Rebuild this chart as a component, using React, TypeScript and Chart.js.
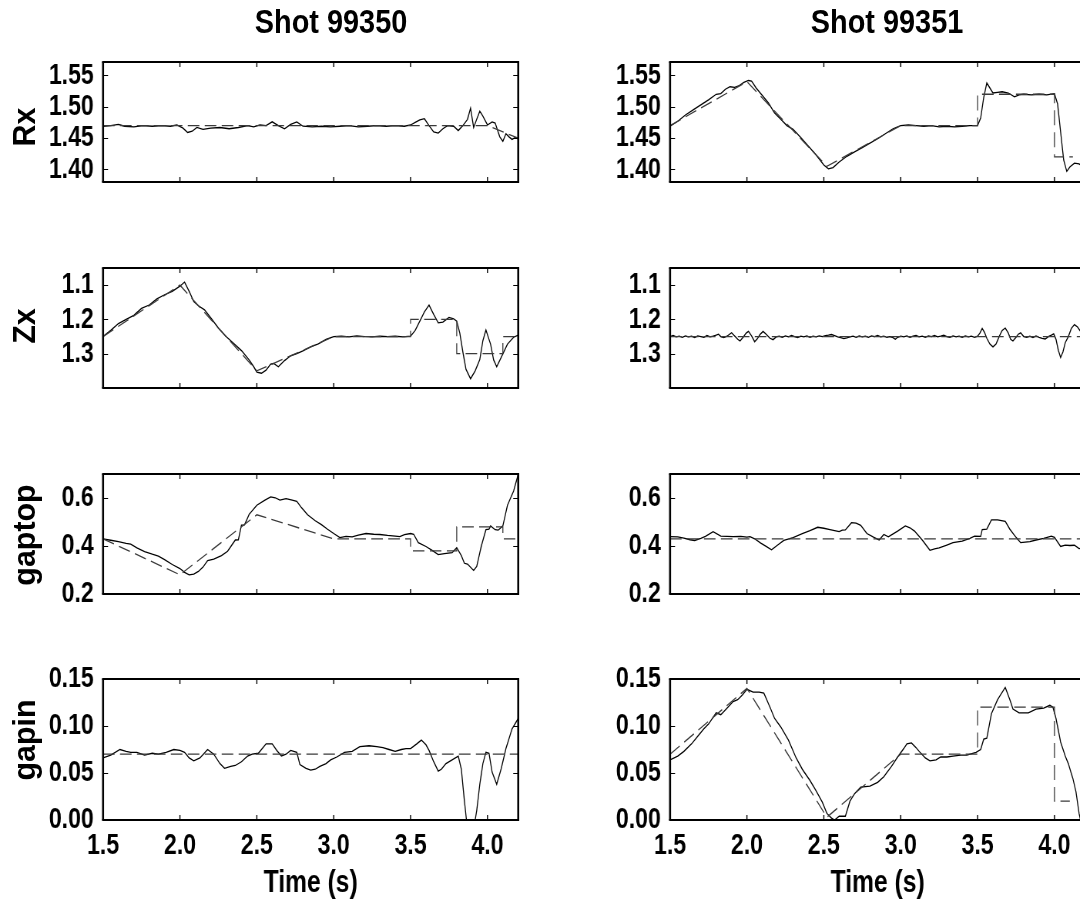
import React, { useEffect, useRef } from "react";
import { Chart, registerables } from "chart.js";

Chart.register(...registerables);

// ---------- DATA ----------
const xTicks = [1.5, 2.0, 2.5, 3.0, 3.5, 4.0];
const rxTicks = [1.4, 1.45, 1.5, 1.55];
const zxTicks = [1.1, 1.2, 1.3];
const gaptopTicks = [0.2, 0.4, 0.6];
const gapinTicks = [0, 0.05, 0.1, 0.15];

const shotTitles = ["Shot 99350", "Shot 99351"];
const rowLabels = ["Rx", "Zx", "gaptop", "gapin"];
const xAxisTitle = "Time (s)";

// Shot 99350 Rx
const rx50T = [1.50,1.55,1.60,1.64,1.70,1.76,1.82,1.88,1.94,1.98,2.02,2.05,2.08,2.11,2.15,2.20,2.26,2.32,2.38,2.44,2.48,2.52,2.56,2.60,2.64,2.68,2.72,2.76,2.80,2.86,2.92,2.98,3.04,3.10,3.16,3.22,3.28,3.34,3.40,3.46,3.50,3.53,3.56,3.59,3.62,3.65,3.68,3.71,3.74,3.78,3.81,3.84,3.87,3.89,3.91,3.93,3.95,3.97,4.00,4.03,4.05,4.08,4.10,4.12,4.14,4.16,4.18,4.20];
const rx50V = [1.469,1.470,1.472,1.469,1.468,1.470,1.469,1.470,1.469,1.471,1.466,1.459,1.461,1.467,1.464,1.466,1.467,1.465,1.467,1.470,1.468,1.471,1.470,1.476,1.470,1.465,1.472,1.476,1.469,1.468,1.469,1.468,1.469,1.470,1.468,1.469,1.470,1.469,1.470,1.469,1.471,1.475,1.479,1.481,1.470,1.460,1.458,1.465,1.470,1.469,1.462,1.470,1.480,1.498,1.467,1.480,1.493,1.485,1.471,1.476,1.474,1.452,1.445,1.457,1.452,1.448,1.451,1.449];
const rx50RefT = [1.5, 4.0, 4.2];
const rx50RefV = [1.47, 1.47, 1.45];

// Shot 99351 Rx
const rx51T = [1.50,1.55,1.60,1.65,1.70,1.75,1.80,1.83,1.86,1.89,1.92,1.95,1.98,2.01,2.03,2.06,2.10,2.14,2.18,2.22,2.26,2.30,2.35,2.40,2.45,2.50,2.53,2.56,2.60,2.65,2.70,2.75,2.80,2.85,2.90,2.95,3.00,3.05,3.10,3.15,3.20,3.25,3.30,3.35,3.40,3.45,3.50,3.52,3.54,3.56,3.58,3.60,3.63,3.66,3.70,3.74,3.77,3.80,3.85,3.90,3.95,4.00,4.02,4.04,4.06,4.08,4.10,4.13,4.16,4.20];
const rx51V = [1.469,1.477,1.487,1.495,1.503,1.511,1.520,1.521,1.528,1.532,1.531,1.534,1.539,1.542,1.541,1.530,1.518,1.506,1.490,1.480,1.470,1.464,1.451,1.437,1.423,1.407,1.401,1.403,1.412,1.421,1.428,1.435,1.442,1.449,1.457,1.465,1.470,1.471,1.470,1.469,1.470,1.468,1.469,1.468,1.469,1.470,1.470,1.482,1.515,1.538,1.530,1.522,1.523,1.524,1.522,1.516,1.519,1.520,1.519,1.520,1.519,1.521,1.505,1.460,1.415,1.397,1.404,1.410,1.409,1.402];
const rx51RefT = [1.5, 2.0, 2.52, 3.0, 3.5, 3.5, 4.0, 4.0, 4.12];
const rx51RefV = [1.47, 1.54, 1.405, 1.47, 1.47, 1.52, 1.52, 1.42, 1.42];

// Shot 99350 Zx
const zx50T = [1.50,1.55,1.60,1.65,1.70,1.75,1.80,1.85,1.90,1.95,2.00,2.03,2.06,2.09,2.12,2.16,2.20,2.25,2.30,2.35,2.40,2.45,2.48,2.50,2.53,2.56,2.59,2.61,2.64,2.68,2.72,2.76,2.80,2.85,2.90,2.95,3.00,3.05,3.10,3.15,3.20,3.25,3.30,3.35,3.40,3.45,3.50,3.53,3.56,3.59,3.62,3.65,3.68,3.71,3.75,3.78,3.80,3.82,3.84,3.86,3.89,3.92,3.95,3.97,3.99,4.02,4.04,4.06,4.09,4.13,4.17,4.20];
const zx50V = [1.250,1.232,1.212,1.200,1.188,1.168,1.158,1.140,1.128,1.118,1.103,1.091,1.118,1.148,1.160,1.172,1.195,1.225,1.250,1.270,1.291,1.318,1.338,1.354,1.357,1.348,1.330,1.328,1.338,1.320,1.306,1.300,1.292,1.280,1.271,1.258,1.250,1.249,1.251,1.248,1.250,1.251,1.249,1.250,1.249,1.251,1.249,1.232,1.205,1.178,1.158,1.185,1.210,1.208,1.194,1.198,1.205,1.240,1.295,1.345,1.373,1.350,1.317,1.262,1.231,1.272,1.318,1.338,1.310,1.272,1.252,1.246];
const zx50RefT = [1.5, 2.0, 2.5, 3.0, 3.5, 3.5, 3.8, 3.8, 4.1, 4.1, 4.2];
const zx50RefV = [1.25, 1.10, 1.35, 1.25, 1.25, 1.20, 1.20, 1.30, 1.30, 1.25, 1.25];

// Shot 99351 Zx
const zx51T = [
  1.500,1.520,1.540,1.560,1.580,1.600,1.620,1.640,1.660,1.680,
  1.700,1.720,1.740,1.760,1.780,1.800,1.815,1.830,1.850,1.870,
  1.885,1.900,1.920,1.940,1.955,1.975,1.995,2.010,2.030,2.050,
  2.065,2.085,2.105,2.125,2.150,2.170,2.190,2.210,2.230,2.250,
  2.270,2.290,2.310,2.330,2.350,2.370,2.390,2.410,2.430,2.450,
  2.470,2.490,2.510,2.530,2.550,2.570,2.590,2.610,2.630,2.650,
  2.670,2.690,2.710,2.730,2.750,2.770,2.790,2.810,2.830,2.850,
  2.870,2.890,2.910,2.930,2.950,2.965,2.980,3.000,3.020,3.040,
  3.060,3.080,3.100,3.120,3.140,3.160,3.180,3.200,3.220,3.240,
  3.260,3.280,3.300,3.320,3.340,3.360,3.380,3.400,3.420,3.440,
  3.460,3.480,3.500,3.515,3.530,3.545,3.560,3.580,3.600,3.620,
  3.640,3.660,3.680,3.700,3.715,3.730,3.750,3.765,3.780,3.800,
  3.820,3.840,3.860,3.880,3.900,3.920,3.940,3.960,3.980,3.995,
  4.010,4.025,4.040,4.055,4.070,4.090,4.110,4.130,4.150,4.170,
  4.185,4.200,
];
const zx51V = [
  1.250,1.247,1.251,1.249,1.252,1.248,1.251,1.249,1.253,1.248,
  1.250,1.252,1.247,1.251,1.249,1.246,1.243,1.250,1.253,1.249,
  1.244,1.239,1.248,1.258,1.263,1.252,1.240,1.235,1.248,1.265,
  1.258,1.244,1.235,1.243,1.255,1.259,1.251,1.249,1.252,1.248,
  1.251,1.247,1.250,1.253,1.249,1.251,1.248,1.252,1.249,1.251,
  1.248,1.250,1.247,1.246,1.244,1.247,1.251,1.253,1.256,1.254,
  1.251,1.249,1.252,1.248,1.251,1.249,1.252,1.248,1.250,1.247,
  1.251,1.249,1.252,1.250,1.253,1.258,1.252,1.249,1.251,1.248,
  1.252,1.249,1.247,1.251,1.249,1.252,1.248,1.250,1.247,1.251,
  1.249,1.246,1.250,1.252,1.248,1.251,1.249,1.252,1.248,1.251,
  1.249,1.252,1.249,1.240,1.226,1.238,1.255,1.272,1.280,1.272,
  1.250,1.232,1.225,1.240,1.258,1.263,1.252,1.243,1.239,1.250,
  1.252,1.249,1.253,1.248,1.252,1.255,1.257,1.250,1.246,1.242,
  1.258,1.290,1.311,1.295,1.268,1.250,1.226,1.215,1.222,1.235,
  1.242,1.245,
];
const zx51RefT = [1.5, 4.2];
const zx51RefV = [1.25, 1.25];

// Shot 99350 gaptop
const gt50T = [1.50,1.55,1.60,1.65,1.68,1.72,1.77,1.82,1.86,1.90,1.95,2.00,2.03,2.06,2.09,2.12,2.15,2.18,2.22,2.27,2.31,2.36,2.38,2.40,2.42,2.45,2.50,2.55,2.59,2.62,2.65,2.69,2.73,2.76,2.79,2.83,2.88,2.92,2.96,3.00,3.04,3.08,3.12,3.16,3.21,3.26,3.30,3.35,3.40,3.43,3.46,3.50,3.52,3.55,3.60,3.64,3.68,3.72,3.77,3.80,3.83,3.85,3.87,3.91,3.93,3.96,3.99,4.01,4.02,4.05,4.07,4.10,4.13,4.17,4.20];
const gt50V = [0.430,0.424,0.418,0.411,0.408,0.392,0.377,0.366,0.358,0.343,0.323,0.306,0.290,0.280,0.283,0.294,0.312,0.339,0.345,0.360,0.378,0.425,0.426,0.487,0.488,0.532,0.570,0.590,0.605,0.601,0.591,0.597,0.591,0.586,0.560,0.530,0.505,0.489,0.470,0.452,0.435,0.440,0.438,0.445,0.452,0.449,0.448,0.444,0.441,0.439,0.447,0.452,0.449,0.414,0.398,0.382,0.364,0.368,0.372,0.393,0.360,0.328,0.325,0.298,0.315,0.400,0.468,0.470,0.484,0.468,0.466,0.484,0.570,0.629,0.699];
const gt50RefT = [1.5, 2.0, 2.5, 3.0, 3.5, 3.5, 3.8, 3.8, 4.1, 4.1, 4.2];
const gt50RefV = [0.43, 0.28, 0.53, 0.43, 0.43, 0.38, 0.38, 0.48, 0.48, 0.43, 0.43];

// Shot 99351 gaptop
const gt51T = [1.50,1.55,1.59,1.63,1.66,1.70,1.73,1.78,1.83,1.87,1.91,1.96,2.00,2.02,2.05,2.09,2.13,2.16,2.20,2.24,2.30,2.36,2.41,2.46,2.50,2.54,2.57,2.60,2.62,2.64,2.68,2.71,2.74,2.78,2.82,2.86,2.89,2.92,2.94,2.98,3.03,3.06,3.09,3.14,3.19,3.22,3.25,3.30,3.34,3.40,3.45,3.48,3.52,3.53,3.56,3.59,3.63,3.68,3.71,3.75,3.78,3.84,3.88,3.93,3.98,4.00,4.04,4.07,4.10,4.13,4.16,4.20];
const gt51V = [0.439,0.438,0.433,0.426,0.423,0.432,0.440,0.460,0.441,0.440,0.439,0.440,0.437,0.439,0.430,0.412,0.396,0.384,0.404,0.423,0.435,0.452,0.464,0.478,0.474,0.468,0.464,0.460,0.466,0.467,0.497,0.495,0.486,0.452,0.438,0.425,0.448,0.438,0.446,0.462,0.484,0.476,0.462,0.425,0.382,0.388,0.392,0.404,0.414,0.420,0.432,0.441,0.440,0.468,0.470,0.509,0.509,0.503,0.470,0.436,0.414,0.418,0.425,0.432,0.441,0.436,0.398,0.404,0.402,0.403,0.389,0.392];
const gt51RefT = [1.5, 4.2];
const gt51RefV = [0.43, 0.43];

// Shot 99350 gapin
const gi50T = [1.50,1.55,1.61,1.65,1.68,1.72,1.77,1.82,1.86,1.91,1.96,2.00,2.03,2.06,2.09,2.13,2.18,2.22,2.26,2.29,2.33,2.36,2.40,2.44,2.47,2.51,2.56,2.60,2.63,2.66,2.69,2.72,2.76,2.78,2.82,2.85,2.88,2.91,2.95,2.98,3.02,3.07,3.12,3.17,3.23,3.28,3.32,3.36,3.40,3.44,3.47,3.50,3.54,3.57,3.60,3.62,3.65,3.68,3.70,3.73,3.77,3.81,3.83,3.85,3.87,3.91,3.93,3.95,3.97,3.99,4.01,4.03,4.06,4.09,4.12,4.16,4.20];
const gi50V = [0.066,0.069,0.075,0.073,0.072,0.072,0.069,0.071,0.070,0.072,0.075,0.074,0.072,0.066,0.063,0.066,0.075,0.070,0.060,0.055,0.057,0.058,0.062,0.068,0.070,0.071,0.081,0.081,0.074,0.068,0.070,0.074,0.072,0.059,0.055,0.053,0.054,0.057,0.060,0.064,0.067,0.072,0.073,0.078,0.079,0.078,0.077,0.075,0.073,0.075,0.076,0.076,0.081,0.085,0.080,0.074,0.062,0.052,0.054,0.060,0.064,0.068,0.054,0.020,-0.010,-0.010,0.010,0.038,0.060,0.072,0.071,0.051,0.038,0.055,0.076,0.097,0.108];
const gi50RefT = [1.5, 4.2];
const gi50RefV = [0.07, 0.07];

// Shot 99351 gapin
const gi51T = [1.50,1.55,1.59,1.64,1.68,1.72,1.75,1.80,1.83,1.87,1.91,1.94,1.97,2.00,2.04,2.08,2.11,2.15,2.18,2.22,2.27,2.32,2.36,2.41,2.45,2.49,2.52,2.55,2.57,2.60,2.64,2.67,2.70,2.74,2.80,2.85,2.89,2.94,2.98,3.02,3.04,3.07,3.10,3.12,3.16,3.19,3.23,3.26,3.30,3.34,3.39,3.43,3.49,3.52,3.54,3.56,3.59,3.63,3.68,3.71,3.73,3.77,3.80,3.83,3.88,3.93,3.97,3.99,4.01,4.04,4.07,4.09,4.12,4.14,4.16,4.18,4.20];
const gi51V = [0.064,0.068,0.073,0.081,0.089,0.097,0.102,0.114,0.112,0.119,0.126,0.128,0.133,0.139,0.136,0.136,0.135,0.120,0.108,0.099,0.085,0.066,0.054,0.042,0.031,0.019,0.007,0.002,0.000,0.004,0.004,0.020,0.028,0.035,0.036,0.040,0.046,0.057,0.067,0.076,0.081,0.082,0.077,0.073,0.066,0.063,0.064,0.067,0.067,0.068,0.069,0.069,0.072,0.075,0.086,0.087,0.113,0.128,0.141,0.128,0.118,0.114,0.114,0.114,0.118,0.119,0.122,0.120,0.108,0.083,0.068,0.060,0.044,0.030,0.007,-0.008,-0.015];
const gi51RefT = [1.5, 2.0, 2.52, 3.0, 3.5, 3.5, 4.0, 4.0, 4.1];
const gi51RefV = [0.07, 0.14, 0.003, 0.07, 0.07, 0.12, 0.12, 0.02, 0.02];

// ---------- PANEL SETUP ----------
type PanelDef = {
  row: number;
  col: number;
  t: number[];
  v: number[];
  rt: number[];
  rv: number[];
  min: number;
  max: number;
  ticks: number[];
  dec: number;
  reverse: boolean;
};

const panels: PanelDef[] = [
  { row: 0, col: 0, t: rx50T, v: rx50V, rt: rx50RefT, rv: rx50RefV, min: 1.38, max: 1.5715, ticks: rxTicks, dec: 2, reverse: false },
  { row: 0, col: 1, t: rx51T, v: rx51V, rt: rx51RefT, rv: rx51RefV, min: 1.38, max: 1.5715, ticks: rxTicks, dec: 2, reverse: false },
  { row: 1, col: 0, t: zx50T, v: zx50V, rt: zx50RefT, rv: zx50RefV, min: 1.05, max: 1.40, ticks: zxTicks, dec: 1, reverse: true },
  { row: 1, col: 1, t: zx51T, v: zx51V, rt: zx51RefT, rv: zx51RefV, min: 1.05, max: 1.40, ticks: zxTicks, dec: 1, reverse: true },
  { row: 2, col: 0, t: gt50T, v: gt50V, rt: gt50RefT, rv: gt50RefV, min: 0.2, max: 0.7, ticks: gaptopTicks, dec: 1, reverse: false },
  { row: 2, col: 1, t: gt51T, v: gt51V, rt: gt51RefT, rv: gt51RefV, min: 0.2, max: 0.7, ticks: gaptopTicks, dec: 1, reverse: false },
  { row: 3, col: 0, t: gi50T, v: gi50V, rt: gi50RefT, rv: gi50RefV, min: 0, max: 0.15, ticks: gapinTicks, dec: 2, reverse: false },
  { row: 3, col: 1, t: gi51T, v: gi51V, rt: gi51RefT, rv: gi51RefV, min: 0, max: 0.15, ticks: gapinTicks, dec: 2, reverse: false },
];

// ---------- LAYOUT ----------
// Canvas is drawn wider internally and shown compressed horizontally (S) to get the
// narrow bold lettering of the original figure.
const S = 0.77;
const FONT = '"Liberation Sans", Arial, Helvetica, sans-serif';
const ROW_TOP = [46, 252, 458, 663];
const ROW_BOTTOM = [202, 408, 614, 820];
const COL_CANVAS_LEFT = [0, 540];
const COL_CANVAS_W = [540, 560];
const COL_AREA_LEFT = [103, 670];
const AREA_W = 415;
const TOP_PAD = 14;
const FIG_H = 903;
const LABEL_CENTER_Y = [127, 326, 535, 740];
const LABEL_CENTER_X = 24;
const titleCenters = [331, 887];

function makeFrame(s: number) {
  return {
    id: "matlabFrame",
    afterDraw(chart: any) {
      const { ctx, chartArea: a, scales } = chart;
      ctx.save();
      ctx.strokeStyle = "#000";
      const tlV = 5;
      const tlH = 5 / s;
      ctx.lineWidth = 1.1 / s;
      ctx.beginPath();
      for (const t of scales.x.ticks) {
        const px = scales.x.getPixelForValue(t.value);
        ctx.moveTo(px, a.bottom);
        ctx.lineTo(px, a.bottom - tlV);
        ctx.moveTo(px, a.top);
        ctx.lineTo(px, a.top + tlV);
      }
      ctx.stroke();
      ctx.lineWidth = 1.1;
      ctx.beginPath();
      for (const t of scales.y.ticks) {
        const py = Math.round(scales.y.getPixelForValue(t.value)) + 0.5;
        ctx.moveTo(a.left, py);
        ctx.lineTo(a.left + tlH, py);
        ctx.moveTo(a.right, py);
        ctx.lineTo(a.right - tlH, py);
      }
      ctx.stroke();
      ctx.lineWidth = 2;
      ctx.beginPath();
      ctx.moveTo(a.left - 1 / s, a.top);
      ctx.lineTo(a.right + 1 / s, a.top);
      ctx.moveTo(a.left - 1 / s, a.bottom);
      ctx.lineTo(a.right + 1 / s, a.bottom);
      ctx.stroke();
      ctx.lineWidth = 2 / s;
      ctx.beginPath();
      ctx.moveTo(a.left, a.top);
      ctx.lineTo(a.left, a.bottom);
      ctx.moveTo(a.right, a.top);
      ctx.lineTo(a.right, a.bottom);
      ctx.stroke();
      ctx.restore();
    },
  };
}

function Panel({ p }: { p: PanelDef }) {
  const ref = useRef<HTMLCanvasElement>(null);
  const isBottom = p.row === 3;
  const cLeft = COL_CANVAS_LEFT[p.col];
  const cW = COL_CANVAS_W[p.col];
  const aTop = ROW_TOP[p.row];
  const aBottom = ROW_BOTTOM[p.row];
  const hx = isBottom ? FIG_H - aBottom : 10;
  const cTop = aTop - TOP_PAD;
  const cH = aBottom - aTop + TOP_PAD + hx;
  const cWi = Math.round(cW / S);
  const yWi = (COL_AREA_LEFT[p.col] - cLeft) / S;
  const areaWi = AREA_W / S;
  const padRight = cWi - (yWi + areaWi);

  useEffect(() => {
    if (!ref.current) return;
    const tickFont = { family: FONT, size: 30, weight: "bold" as const };
    const chart = new Chart(ref.current, {
      type: "line",
      data: {
        datasets: [
          {
            data: p.rt.map((t, i) => ({ x: t, y: p.rv[i] })),
            borderColor: "#3a3a3a",
            borderWidth: 1.3,
            borderDash: [15, 7],
            pointRadius: 0,
            tension: 0,
            fill: false,
          },
          {
            data: p.t.map((t, i) => ({ x: t, y: p.v[i] })),
            borderColor: "#000",
            borderWidth: 1.3,
            pointRadius: 0,
            tension: 0,
            fill: false,
          },
        ],
      },
      options: {
        responsive: false,
        devicePixelRatio: 1,
        animation: false,
        events: [],
        layout: { padding: { top: TOP_PAD, right: padRight, bottom: 0, left: 0 } },
        plugins: {
          legend: { display: false },
          tooltip: { enabled: false },
          title: { display: false },
        },
        scales: {
          x: {
            type: "linear",
            min: 1.5,
            max: 4.2,
            grid: { display: false, drawTicks: false },
            border: { display: false },
            ticks: {
              padding: 8,
              autoSkip: false,
              maxRotation: 0,
              color: "#000",
              font: tickFont,
              callback: (v: any) => (isBottom ? Number(v).toFixed(1) : ""),
            },
            afterBuildTicks: (s: any) => {
              s.ticks = xTicks.map((v) => ({ value: v }));
            },
            afterFit: (s: any) => {
              s.height = hx;
            },
            title: {
              display: isBottom,
              text: xAxisTitle,
              color: "#000",
              font: { family: FONT, size: 32, weight: "bold" },
              padding: { top: 0, bottom: 1 },
            },
          },
          y: {
            type: "linear",
            min: p.min,
            max: p.max,
            reverse: p.reverse,
            grid: { display: false, drawTicks: false },
            border: { display: false },
            ticks: {
              padding: 12,
              autoSkip: false,
              color: "#000",
              font: tickFont,
              callback: (v: any) => Number(v).toFixed(p.dec),
            },
            afterBuildTicks: (s: any) => {
              s.ticks = p.ticks.map((v) => ({ value: v }));
            },
            afterFit: (s: any) => {
              s.width = yWi;
            },
          },
        },
      } as any,
      plugins: [makeFrame(S)],
    });
    return () => chart.destroy();
  }, []);

  return (
    <canvas
      ref={ref}
      width={cWi}
      height={cH}
      style={{ position: "absolute", left: cLeft, top: cTop, width: cW, height: cH }}
    />
  );
}

export default function App() {
  return (
    <div
      style={{
        position: "absolute",
        left: 0,
        top: 0,
        width: 1080,
        height: FIG_H,
        overflow: "hidden",
        background: "#fff",
      }}
    >
      {panels.map((p, i) => (
        <Panel key={i} p={p} />
      ))}
      {shotTitles.map((t, i) => (
        <div
          key={t}
          style={{
            position: "absolute",
            left: titleCenters[i] - 120,
            width: 240,
            top: 4,
            textAlign: "center",
            fontFamily: FONT,
            fontWeight: "bold",
            fontSize: 34,
            lineHeight: "34px",
            color: "#000",
            transform: "scaleX(0.85)",
            transformOrigin: "50% 50%",
          }}
        >
          {t}
        </div>
      ))}
      {rowLabels.map((t, i) => (
        <div
          key={t}
          style={{
            position: "absolute",
            left: LABEL_CENTER_X - 100,
            top: LABEL_CENTER_Y[i] - 16,
            width: 200,
            height: 32,
            textAlign: "center",
            fontFamily: FONT,
            fontWeight: "bold",
            fontSize: 32,
            lineHeight: "32px",
            color: "#000",
            transform: "rotate(-90deg) scaleX(0.95)",
            transformOrigin: "50% 50%",
            whiteSpace: "nowrap",
          }}
        >
          {t}
        </div>
      ))}
    </div>
  );
}
